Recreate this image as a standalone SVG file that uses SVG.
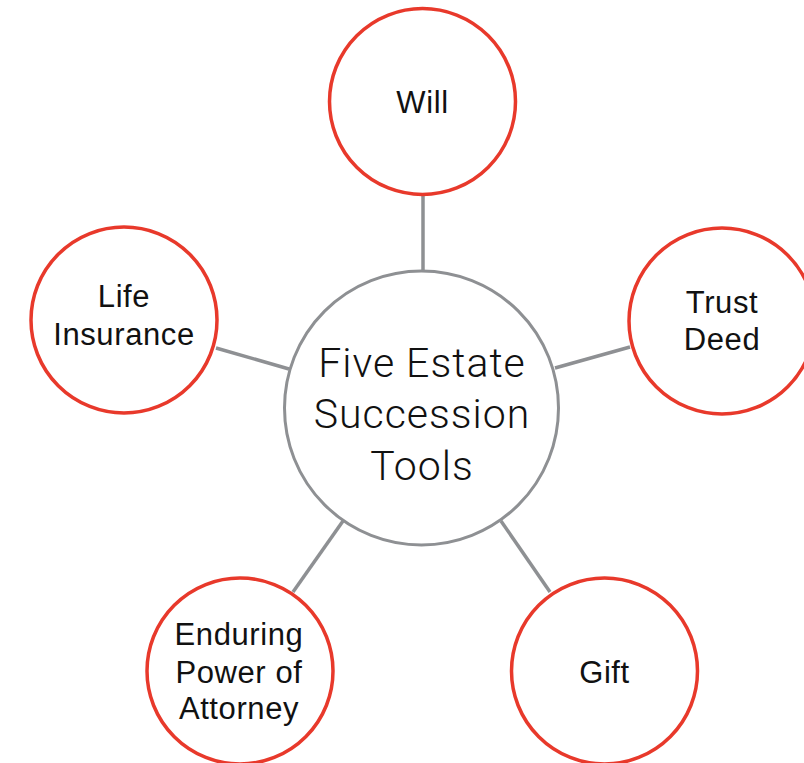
<svg xmlns="http://www.w3.org/2000/svg" width="804" height="763" viewBox="0 0 804 763">
<style>
.hub{fill:#fff;stroke:#8e9093;stroke-width:3}
.tool{fill:#fff;stroke:#e8392b;stroke-width:3.5}
.conn line{stroke:#8e9093;stroke-width:3.5}
.lbl{font-family:"Liberation Sans",Arial,sans-serif;font-size:31px;letter-spacing:0.6px;fill:#111;text-anchor:middle}
.hubl{font-family:Roboto,"Liberation Sans",sans-serif;font-weight:300;font-size:41px;letter-spacing:1px;fill:#111;text-anchor:middle}
</style>
<rect width="804" height="763" fill="#fff"/>
<g id="connectors" class="conn">
<line x1="423" y1="195" x2="423" y2="270"/>
<line x1="216" y1="348" x2="289" y2="369"/>
<line x1="555" y1="368" x2="630" y2="347"/>
<line x1="293" y1="592" x2="343" y2="521"/>
<line x1="550" y1="592" x2="501" y2="521"/>
</g>
<g id="hub">
<circle class="hub" cx="421.5" cy="408" r="137"/>
<text class="hubl" x="422" y="377">Five Estate</text>
<text class="hubl" x="422" y="428">Succession</text>
<text class="hubl" x="422" y="480">Tools</text>
</g>
<g id="will">
<circle class="tool" cx="422.5" cy="101.5" r="93"/>
<text class="lbl" x="422.5" y="113">Will</text>
</g>
<g id="trust-deed">
<circle class="tool" cx="722" cy="321" r="93"/>
<text class="lbl" x="722" y="313">Trust</text>
<text class="lbl" x="722" y="350">Deed</text>
</g>
<g id="life-insurance">
<circle class="tool" cx="124" cy="320" r="93"/>
<text class="lbl" x="124" y="307">Life</text>
<text class="lbl" x="124" y="345">Insurance</text>
</g>
<g id="enduring-power-of-attorney">
<circle class="tool" cx="240" cy="671" r="93"/>
<text class="lbl" x="239" y="645">Enduring</text>
<text class="lbl" x="239" y="683">Power of</text>
<text class="lbl" x="239" y="719">Attorney</text>
</g>
<g id="gift">
<circle class="tool" cx="604.5" cy="671" r="93"/>
<text class="lbl" x="604.5" y="683">Gift</text>
</g>
</svg>
